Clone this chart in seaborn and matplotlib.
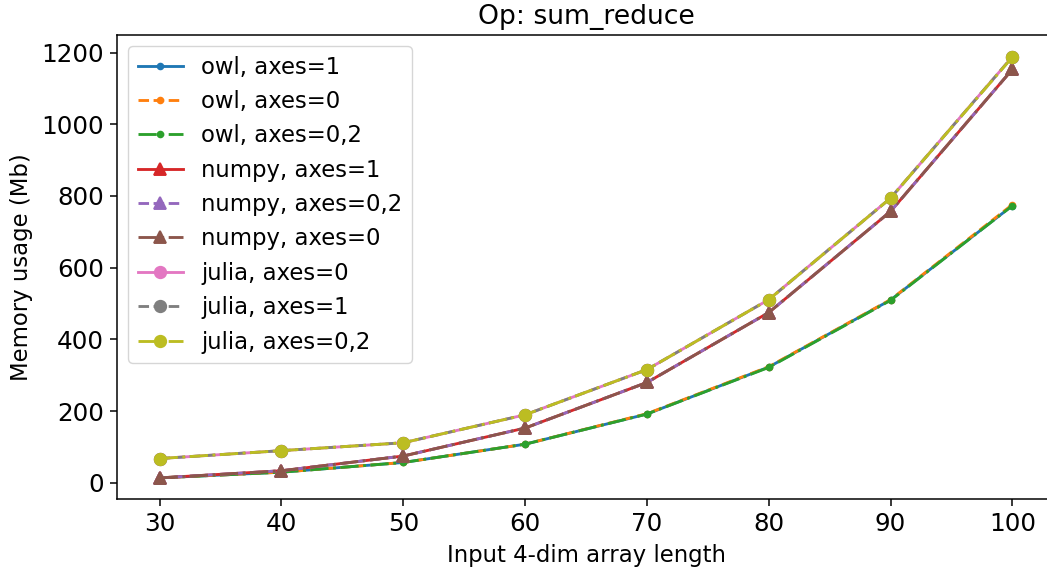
import matplotlib
matplotlib.use("Agg")
import matplotlib.pyplot as plt
import seaborn as sns
import pandas as pd

x_vals = [30, 40, 50, 60, 70, 80, 90, 100]

owl_axes1 = [14, 30, 57, 108, 192, 323, 510, 773]
owl_axes0 = [14, 30, 57, 108, 193, 324, 511, 776]
owl_axes02 = [14, 30, 57, 108, 192, 322, 509, 773]
numpy_axes1 = [14, 34, 75, 153, 280, 475, 757, 1153]
numpy_axes02 = [14, 34, 75, 153, 280, 475, 757, 1153]
numpy_axes0 = [14, 34, 75, 153, 280, 475, 757, 1153]
julia_axes0 = [68, 90, 112, 190, 316, 511, 794, 1188]
julia_axes1 = [68, 90, 112, 190, 316, 511, 794, 1188]
julia_axes02 = [68, 90, 112, 190, 316, 511, 794, 1187]

labels = ["owl, axes=1", "owl, axes=0", "owl, axes=0,2",
          "numpy, axes=1", "numpy, axes=0,2", "numpy, axes=0",
          "julia, axes=0", "julia, axes=1", "julia, axes=0,2"]
series = [owl_axes1, owl_axes0, owl_axes02,
          numpy_axes1, numpy_axes02, numpy_axes0,
          julia_axes0, julia_axes1, julia_axes02]

S = 1.367
plt.rcParams.update({
    "lines.linewidth": 1.5 * S,
    "lines.markersize": 6 * S,
    "axes.linewidth": 0.8 * S,
    "xtick.major.size": 3.5 * S,
    "ytick.major.size": 3.5 * S,
    "xtick.major.width": 0.8 * S,
    "ytick.major.width": 0.8 * S,
    "xtick.major.pad": 3.5 * S,
    "ytick.major.pad": 3.5 * S,
    "axes.titlepad": 6 * S,
    "axes.labelpad": 4 * S,
    "legend.fontsize": 12 * S,
})

styles = ["-", "--", "-."] * 3
markers = ["."] * 3 + ["^"] * 3 + ["o"] * 3
colors = sns.color_palette("tab10", 9)

fig, ax = plt.subplots(figsize=(10.47, 5.67), dpi=100)
for lab, vals, ls, mk, c in zip(labels, series, styles, markers, colors):
    df = pd.DataFrame({"x": x_vals, "y": vals})
    sns.lineplot(data=df, x="x", y="y", ax=ax, label=lab, color=c,
                 linestyle=ls, marker=mk, markersize=6 * S,
                 linewidth=1.5 * S, markeredgewidth=1.0 * S,
                 markeredgecolor=c)

ax.set_title("Op: sum_reduce", fontsize=14 * S)
ax.set_xlabel("Input 4-dim array length", fontsize=12 * S)
ax.set_ylabel("Memory usage (Mb)", fontsize=12 * S)
ax.tick_params(axis="both", labelsize=13 * S)
ax.set_xticks(x_vals)
ax.set_ylim(-44.8, 1248.8)
ax.set_xlim(26.5, 103.5)
ax.legend(loc="upper left", fontsize=12 * S)
fig.subplots_adjust(left=117 / 1047, right=1055 / 1047,
                    top=1 - 35 / 567, bottom=1 - 499 / 567)
fig.savefig("out.png", dpi=100)
